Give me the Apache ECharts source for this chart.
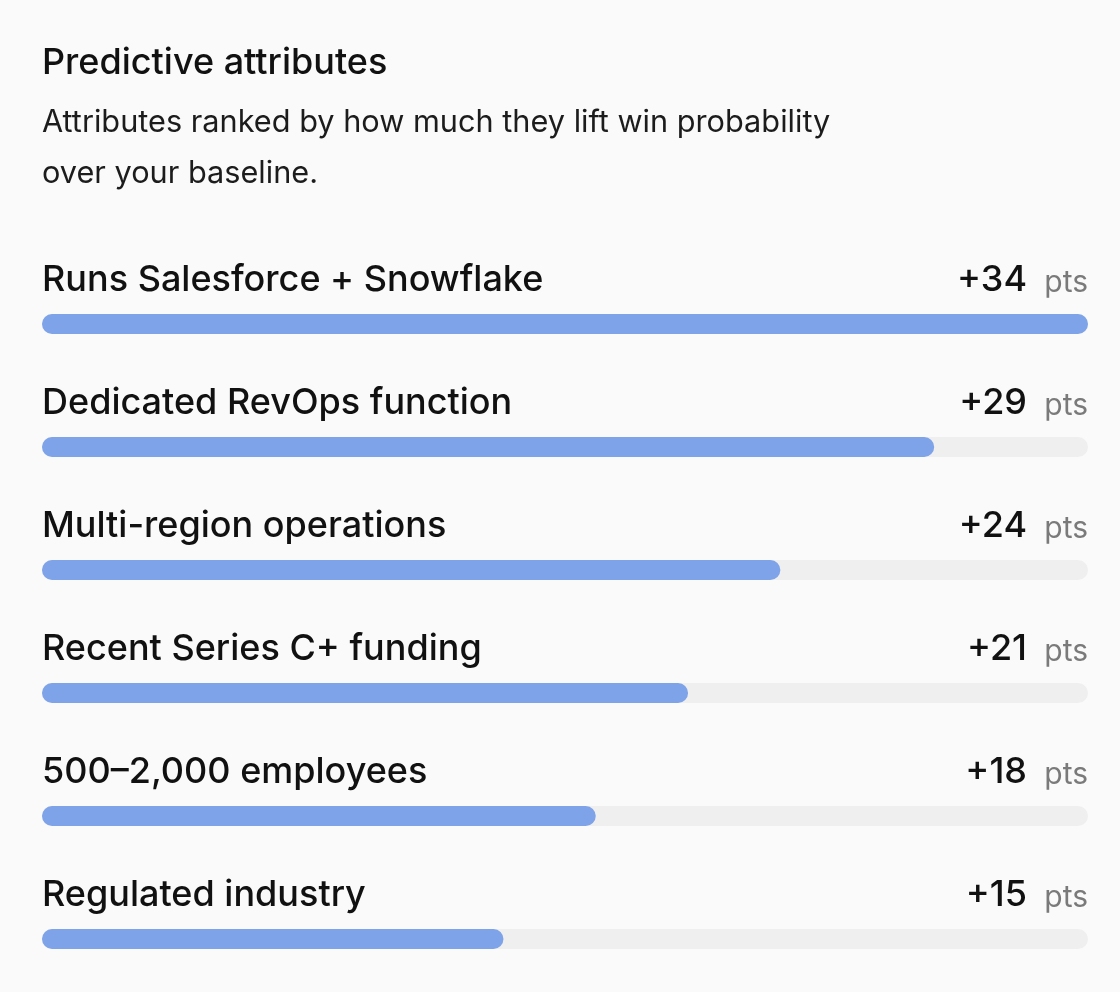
<!DOCTYPE html>
<html><head><meta charset="utf-8">
<script src="https://cdn.jsdelivr.net/npm/echarts@6/dist/echarts.min.js"></script>
<style>html,body{margin:0;padding:0;background:#fafafa}#c{width:1120px;height:992px}</style>
</head><body><div id="c"></div>
<script>
const titleText = 'Predictive attributes';
const subtitleText = 'Attributes ranked by how much they lift win probability\nover your baseline.';
const categories = ['Runs Salesforce + Snowflake','Dedicated RevOps function','Multi-region operations','Recent Series C+ funding','500\u20132,000 employees','Regulated industry'];
const values = [34, 29, 24, 21, 18, 15];
const unitText = 'pts';
const axisMax = 34;

const chart = echarts.init(document.getElementById('c'));
const FONT = 'Inter, "Noto Sans", sans-serif';
chart.setOption({
  backgroundColor: '#fafafa',
  animation: false,
  title: [
    {text: titleText, left: 42, top: 45, padding: 0, textStyle: {fontFamily: FONT, fontSize: 36, fontWeight: 500, color: '#111'}},
    {text: subtitleText, left: 42, top: 97, padding: 0, textStyle: {fontFamily: FONT, fontSize: 30.7, fontWeight: 400, color: '#1c1c1c', lineHeight: 51}}
  ],
  grid: {left: 42, right: 32, top: 324, height: 615},
  xAxis: {type: 'value', min: 0, max: axisMax, show: false},
  yAxis: {type: 'category', data: categories, inverse: true, show: false, boundaryGap: false},
  series: [
    {
      type: 'bar', data: values, barWidth: 20,
      itemStyle: {color: '#7ea3e8', borderRadius: 10},
      showBackground: true,
      backgroundStyle: {color: '#efefef', borderRadius: 10}
    },
    {
      type: 'custom',
      data: values.map((v, i) => [v, i]),
      renderItem: function (params, api) {
        const i = api.value(1);
        const v = api.value(0);
        const left = api.coord([0, i]);
        const right = api.coord([axisMax, i]);
        const y = left[1] - 44;
        return {type: 'group', children: [
          {type: 'text', style: {text: categories[i], x: left[0], y: y, textVerticalAlign: 'middle', textAlign: 'left', font: '500 36px ' + FONT, fill: '#111'}},
          {type: 'text', style: {text: unitText, x: right[0], y: y + 3, textVerticalAlign: 'middle', textAlign: 'right', font: '400 30px ' + FONT, fill: '#7a7a7a'}},
          {type: 'text', style: {text: '+' + v, x: right[0] - 61, y: y, textVerticalAlign: 'middle', textAlign: 'right', font: '500 36px ' + FONT, fill: '#111'}}
        ]};
      },
      z: 5
    }
  ]
});
</script></body></html>
